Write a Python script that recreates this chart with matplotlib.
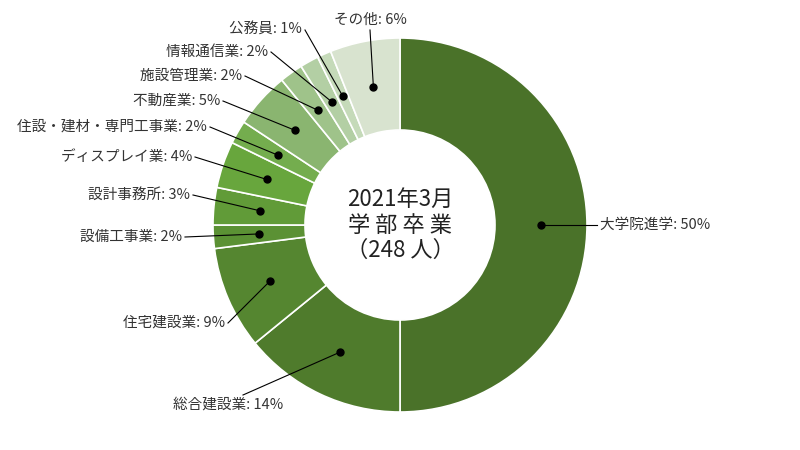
import numpy as np
import matplotlib
matplotlib.use("Agg")
import matplotlib.pyplot as plt

plt.rcParams["font.family"] = "Noto Sans CJK JP"

categories = ["大学院進学", "総合建設業", "住宅建設業", "設備工事業", "設計事務所", "ディスプレイ業",
              "住設・建材・専門工事業", "不動産業", "施設管理業", "情報通信業", "公務員", "その他"]
counts = [124, 35, 22, 5, 8, 10, 5, 12, 5, 4, 3, 15]
pct_labels = ["50%", "14%", "9%", "2%", "3%", "4%", "2%", "5%", "2%", "2%", "1%", "6%"]
colors = ["#4a7229", "#4f7b2c", "#558630", "#5b9134", "#619b38", "#68a63d",
          "#74ad4e", "#8ab570", "#9fc38a", "#b3cfa4", "#c5dab9", "#d8e3cf"]

# label anchor (x, y from top, ha) in pixel coords
label_pos = [(600, 225, "left"), (228, 405, "center"), (225, 323, "right"), (182, 237, "right"),
             (190, 195, "right"), (192, 157, "right"), (207, 127, "right"), (220, 101, "right"),
             (242, 76, "right"), (268, 52, "right"), (302, 30, "right"), (370, 20, "center")]

H = 450
fig = plt.figure(figsize=(8, 4.5), dpi=100)
ax = fig.add_axes([0, 0, 1, 1])

R = 187
W = 92
cx, cy = 400, H - 225
ax.pie(counts, colors=colors, radius=R, center=(cx, cy), startangle=90,
       counterclock=False, wedgeprops=dict(width=W, edgecolor="white", linewidth=1.2))
ax.set_xlim(0, 800)
ax.set_ylim(0, H)
ax.set_aspect("equal")
ax.axis("off")

total = sum(counts)
start = 90.0
for i, (cat, n, pl) in enumerate(zip(categories, counts, pct_labels)):
    frac = n / total * 360
    mid = start - frac / 2
    start -= frac
    rr = R - W / 2
    dx = cx + rr * np.cos(np.radians(mid))
    dy = cy + rr * np.sin(np.radians(mid))
    lx, ly, ha = label_pos[i]
    ly = H - ly
    if ha == "left":
        ex, ey = lx - 3, ly
    elif ha == "right":
        ex, ey = lx + 3, ly
    else:
        ex, ey = lx + (15 if ly < 200 else 0), ly + (10 if ly < 200 else -10)
    ax.plot([dx, ex], [dy, ey], color="black", lw=0.8)
    ax.plot(dx, dy, "o", color="black", ms=5)
    ax.text(lx, ly, f"{cat}: {pl}", ha=ha, va="center", fontsize=10.5, color="#333333")

ax.text(cx, cy, "2021年3月\n学 部 卒 業\n（248 人）", ha="center", va="center",
        fontsize=16, color="#222222", linespacing=1.15)

fig.savefig("out.png", dpi=100)
